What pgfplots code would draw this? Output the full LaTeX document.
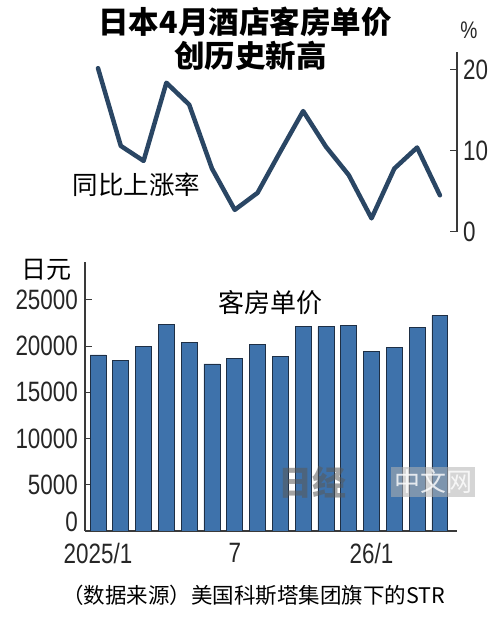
\documentclass[border=0pt]{standalone}
\usepackage{fontspec}
\setmainfont{Noto Sans CJK SC}
\newfontfamily\numfont[FakeStretch=0.8]{Liberation Sans}
\usepackage{pgfplots}
\pgfplotsset{compat=1.18}
\definecolor{barblue}{HTML}{3E72AB}
\definecolor{baredge}{HTML}{1E2F45}
\definecolor{linecol}{HTML}{2A4664}
\definecolor{axisgray}{HTML}{3A3A3A}
\begin{document}
\begin{tikzpicture}
\path[use as bounding box] (0bp,0bp) rectangle (500bp,621bp);
% bar chart
\begin{axis}[
  at={(85bp,90bp)}, anchor=south west, scale only axis,
  width=372bp, height=269bp,
  xmin=-0.57, xmax=15.75, ymin=0, ymax=29100,
  axis x line*=bottom, axis y line*=left,
  axis line style={-, draw=axisgray, line width=1.2bp},
  scaled y ticks=false,
  ytick={0,5000,10000,15000,20000,25000},
  yticklabels={\raisebox{9bp}[\height][0pt]{0},5000,10000,15000,20000,25000},
  xtick={0,6,12}, xticklabels={2025/1,7,26/1},
  tick align=inside, major tick length=7bp,
  tick style={draw=axisgray, line width=1.2bp},
  xtick style={draw=none},
  /pgf/number format/assume math mode=true,
  ticklabel style={font=\numfont\fontsize{28bp}{30bp}\selectfont, inner sep=0pt, text=black!85},
  yticklabel style={anchor=east, xshift=-7bp},
  xticklabel style={anchor=north, yshift=-12bp},
]
\addplot[ybar, bar width=0.7, fill=barblue, draw=baredge, line width=0.8bp] coordinates {
(0,19050) (1,18470) (2,19950) (3,22300) (4,20400) (5,18070) (6,18700) (7,20200)
(8,18900) (9,22100) (10,22100) (11,22200) (12,19400) (13,19900) (14,22000) (15,23300)};
\end{axis}
% line chart
\begin{axis}[
  at={(85bp,389.3bp)}, anchor=south west, scale only axis,
  width=372bp, height=179.7bp,
  xmin=-0.57, xmax=15.75, ymin=0, ymax=22.2,
  axis x line=none, axis y line*=right,
  axis line style={-, draw=axisgray, line width=1.2bp},
  ytick={0,10,20}, yticklabels={0,10,20},
  tick align=inside, major tick length=7bp,
  tick style={draw=axisgray, line width=1.2bp},
  /pgf/number format/assume math mode=true,
  ticklabel style={font=\numfont\fontsize{28bp}{30bp}\selectfont, inner sep=0pt, text=black!85},
  yticklabel style={anchor=west, xshift=6bp},
  clip=false,
]
\addplot[color=linecol, line width=4.5bp, line join=round, line cap=round] coordinates {
(0,20.2) (1,10.6) (2,8.75) (3,18.4) (4,15.7) (5,7.8) (6,2.7) (7,4.8)
(8,9.9) (9,14.9) (10,10.5) (11,7.0) (12,1.65) (13,7.8) (14,10.4) (15,4.5)};
\end{axis}
% texts
\node[inner sep=0pt, font=\bfseries\fontsize{30.5bp}{34bp}\selectfont] at (245bp,599bp) {日本4月酒店客房单价};
\node[inner sep=0pt, font=\bfseries\fontsize{30.5bp}{34bp}\selectfont] at (250.5bp,565bp) {创历史新高};
\node[inner sep=0pt, font=\fontsize{25.5bp}{28bp}\selectfont] at (136.5bp,436bp) {同比上涨率};
\node[inner sep=0pt, font=\fontsize{26bp}{28bp}\selectfont] at (270bp,318bp) {客房单价};
\node[inner sep=0pt, font=\fontsize{25bp}{28bp}\selectfont] at (46bp,351bp) {日元};
\node[inner sep=0pt, font=\numfont\fontsize{24bp}{26bp}\selectfont, text=black!85] at (469bp,591bp) {\%};
\node[inner sep=0pt, font=\fontsize{21.5bp}{24bp}\selectfont] at (253.5bp,26bp) {（数据来源）美国科斯塔集团旗下的STR};
% watermark
\node[inner sep=3bp, fill=gray!60, fill opacity=0.55, text opacity=0.8, text=white, font=\fontsize{26bp}{28bp}\selectfont] at (433bp,139bp) {中文网};
\node[inner sep=0pt, text=black!65, opacity=0.55, font=\bfseries\fontsize{34bp}{36bp}\selectfont] at (312bp,139bp) {日经};
\end{tikzpicture}
\end{document}
